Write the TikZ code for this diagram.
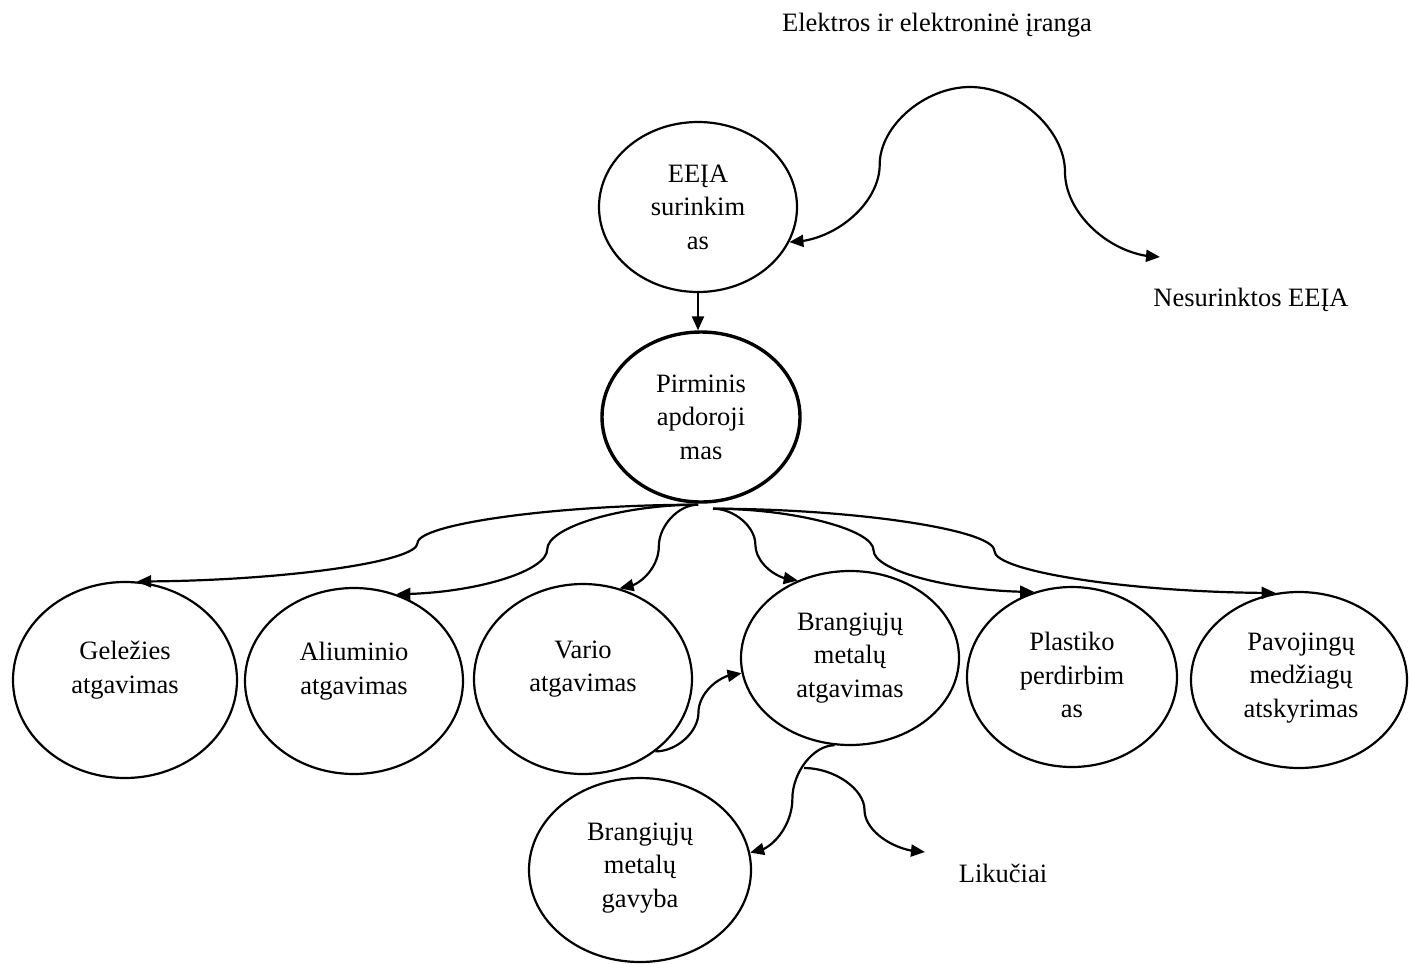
\documentclass[tikz,border=0pt]{standalone}
\usepackage{fontspec}
\setmainfont{Liberation Serif}
\usetikzlibrary{arrows.meta,bending,calc,shapes.geometric}
\tikzset{
  oval/.style={draw, ellipse, line width=2.2pt, inner sep=0pt},
  thickoval/.style={draw, ellipse, line width=3.4pt, inner sep=0pt},
  txt/.style={align=center, inner sep=0pt, font=\fontsize{26.5}{33.5}\selectfont},
  arr/.style={line width=2.2pt, -{Triangle[length=14pt,width=12pt]}},
  scurve/.style={to path={let \p1=(\tikztostart), \p2=(\tikztotarget) in
     .. controls ({(3*\x1+\x2)/4},\y1) and ({(\x1+\x2)/2},{(3*\y1+\y2)/4}) ..
     ({(\x1+\x2)/2},{(\y1+\y2)/2})
     .. controls ({(\x1+\x2)/2},{(\y1+3*\y2)/4}) and ({(\x1+3*\x2)/4},\y2) .. (\tikztotarget)}}
}
\begin{document}
\begin{tikzpicture}[x=1pt,y=-1pt]
\useasboundingbox (0,0) rectangle (1409,964);
% free texts
\node[txt] (tit) at (937,25) {Elektros ir elektroninė įranga};
\node[txt] (nes) at (1251,300) {Nesurinktos EEĮA};
\node[txt] (lik) at (1003,873) {Likučiai};
% ellipses
\node[oval, minimum width=198pt, minimum height=170pt] (eeia) at (698,207) {};
\node[txt] (eeiat) at (698,207) {EEĮA\\surinkim\\as};
\node[thickoval, minimum width=198pt, minimum height=170pt] (prim) at (701,417) {};
\node[txt] (primt) at (701,417) {Pirminis\\apdoroji\\mas};
\node[oval, minimum width=224pt, minimum height=196pt] (gel) at (125,680) {};
\node[txt] (gelt) at (125,670) {Geležies\\atgavimas};
\node[oval, minimum width=218pt, minimum height=186pt] (alu) at (354,681) {};
\node[txt] (alut) at (354,671) {Aliuminio\\atgavimas};
\node[oval, minimum width=218pt, minimum height=190pt] (var) at (583,679) {};
\node[txt] (vart) at (583,669) {Vario\\atgavimas};
\node[oval, minimum width=218pt, minimum height=174pt] (bra) at (850,658) {};
\node[txt] (brat) at (850,658) {Brangiųjų\\metalų\\atgavimas};
\node[oval, minimum width=210pt, minimum height=180pt] (pla) at (1072,677) {};
\node[txt] (plat) at (1072,675) {Plastiko\\perdirbim\\as};
\node[oval, minimum width=216pt, minimum height=176pt] (pav) at (1299,680) {};
\node[txt] (pavt) at (1301,678) {Pavojingų\\medžiagų\\atskyrimas};
\node[oval, minimum width=222pt, minimum height=184pt] (gav) at (640,870) {};
\node[txt] (gavt) at (640,868) {Brangiųjų\\metalų\\gavyba};
% helper coordinates
\coordinate (pl) at ($(prim.south)+(-3,1)$);
\coordinate (pr) at ($(prim.south)+(12,5)$);
\coordinate (apex) at (970,87);
\coordinate (nesend) at (1160,257);
\coordinate (likend) at (925,852);
\coordinate (split) at (804,768);
% connectors
\draw[arr] (eeia.south) -- (eeia.south |- prim.north);
\draw[arr] (apex) to[scurve] (eeia.-21);
\draw[arr] (apex) to[scurve] (nesend);
\draw[arr] (pl) to[scurve] (gel.83);
\draw[arr] (pl) to[scurve] (alu.64);
\draw[arr] (pl) to[scurve] (var.68);
\draw[arr] (pr) to[scurve] (bra.124);
\draw[arr] (pr) to[scurve] (pla.114);
\draw[arr] (pr) to[scurve] (pav.105);
\draw[arr] (var.-45) to[scurve] (bra.188);
\draw[arr] (bra.260) to[scurve] (gav.9);
\draw[arr] (split) to[scurve] (likend);
\end{tikzpicture}
\end{document}
